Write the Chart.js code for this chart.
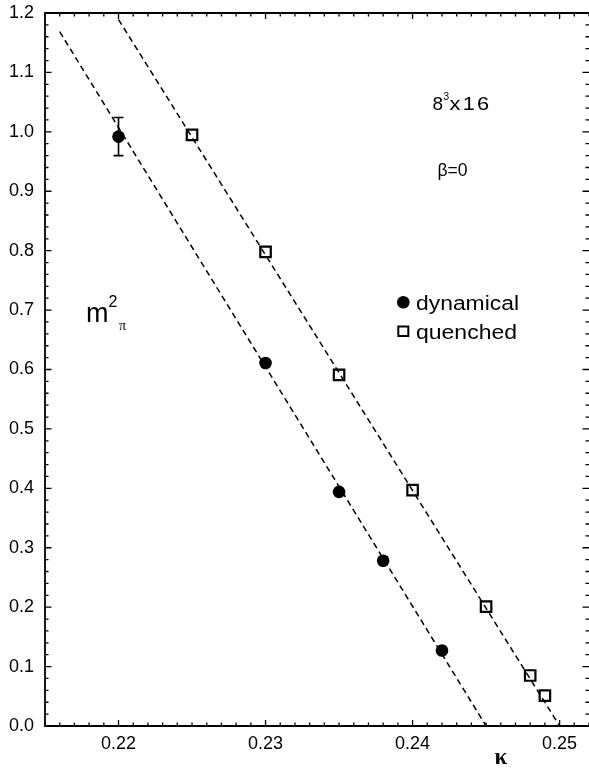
<!DOCTYPE html>
<html>
<head>
<meta charset="utf-8">
<script src="https://cdn.jsdelivr.net/npm/chart.js@4/dist/chart.umd.min.js"></script>
<style>
  html, body { margin: 0; padding: 0; background: #fff; }
  #wrap { width: 589px; height: 770px; }
</style>
</head>
<body>
<div id="wrap"><canvas id="chart" width="589" height="770"></canvas></div>
<script>
// values
const kappaDynamical = [0.220, 0.230, 0.235, 0.238, 0.242];
const mpiDynamical = [0.992, 0.611, 0.394, 0.278, 0.127];
const errDynamical = [0.032, 0, 0, 0, 0];

const kappaQuenched = [0.225, 0.230, 0.235, 0.240, 0.245, 0.248, 0.249];
const mpiQuenched = [0.995, 0.798, 0.591, 0.397, 0.201, 0.085, 0.051];

// dashed fit lines, end points as seen in the picture
const fitDynamicalKappa = [0.2160, 0.2450];
const fitDynamicalMpi = [1.1685, 0.0];
const fitQuenchedKappa = [0.2200, 0.2500];
const fitQuenchedMpi = [1.189, 0.0];

const xTickValues = [0.22, 0.23, 0.24, 0.25];
const yTickValues = [0.0, 0.1, 0.2, 0.3, 0.4, 0.5, 0.6, 0.7, 0.8, 0.9, 1.0, 1.1, 1.2];

const toPoints = (xs, ys) => xs.map((x, i) => ({ x: x, y: ys[i] }));

Chart.defaults.font.family = "'Liberation Sans', Arial, sans-serif";
Chart.defaults.color = "#000";

function drawFitted(ctx, text, x, y, font, targetWidth, spacing) {
  ctx.save();
  ctx.font = font;
  if (spacing) {
    ctx.letterSpacing = spacing;
  }
  const natural = ctx.measureText(text).width;
  const stretch = targetWidth ? targetWidth / natural : 1;
  ctx.translate(x, y);
  ctx.scale(stretch, 1);
  ctx.textBaseline = "alphabetic";
  ctx.textAlign = "left";
  ctx.fillStyle = "#000";
  ctx.fillText(text, 0, 0);
  ctx.restore();
}

const errorBarPlugin = {
  id: "mpiErrorBars",
  afterDatasetsDraw(chart) {
    const dataset = chart.data.datasets[0];
    if (!dataset || !Array.isArray(dataset.errorBars)) {
      return;
    }
    const meta = chart.getDatasetMeta(0);
    const yScale = chart.scales.y;
    const ctx = chart.ctx;
    ctx.save();
    ctx.strokeStyle = "#000";
    ctx.lineWidth = 1.6;
    meta.data.forEach((pt, i) => {
      const err = dataset.errorBars[i];
      if (!err) {
        return;
      }
      const v = dataset.data[i].y;
      const top = yScale.getPixelForValue(v + err);
      const bottom = yScale.getPixelForValue(v - err);
      ctx.beginPath();
      ctx.moveTo(pt.x, top);
      ctx.lineTo(pt.x, bottom);
      ctx.moveTo(pt.x - 5, top);
      ctx.lineTo(pt.x + 5, top);
      ctx.moveTo(pt.x - 5, bottom);
      ctx.lineTo(pt.x + 5, bottom);
      ctx.stroke();
    });
    ctx.restore();
  },
};

// frame with inward ticks; the right border falls on the page edge
const framePlugin = {
  id: "frameTicks",
  beforeDatasetsDraw(chart) {
    const { ctx, chartArea: a, scales } = chart;
    const xs = scales.x;
    const ys = scales.y;
    ctx.save();
    ctx.strokeStyle = "#000";
    ctx.lineWidth = 1.8;
    ctx.beginPath();
    ctx.moveTo(a.right, a.top);
    ctx.lineTo(a.left, a.top);
    ctx.lineTo(a.left, a.bottom);
    ctx.lineTo(a.right, a.bottom);
    ctx.stroke();
    ctx.lineWidth = 1.3;
    ctx.beginPath();
    for (let i = 215; i <= 252; i++) {
      const px = xs.getPixelForValue(i / 1000);
      const len = i % 10 === 0 ? 6 : 3.5;
      ctx.moveTo(px, a.bottom);
      ctx.lineTo(px, a.bottom - len);
      ctx.moveTo(px, a.top);
      ctx.lineTo(px, a.top + len);
    }
    for (let j = 0; j <= 60; j++) {
      const py = ys.getPixelForValue(j / 50);
      const len = j % 5 === 0 ? 6.5 : 3.5;
      ctx.moveTo(a.left, py);
      ctx.lineTo(a.left + len, py);
      ctx.moveTo(a.right, py);
      ctx.lineTo(a.right - len, py);
    }
    ctx.stroke();
    ctx.restore();
  },
  afterDraw(chart) {
    const ctx = chart.ctx;
    const sans = "'Liberation Sans', Arial, sans-serif";
    const serif = "'Liberation Serif', 'Times New Roman', serif";

    drawFitted(ctx, "8", 432.5, 110, "19px " + sans);
    drawFitted(ctx, "3", 443.5, 100, "10px " + sans);
    drawFitted(ctx, "x16", 449.5, 110, "19px " + sans, 42, "2px");
    drawFitted(ctx, "\u03b2=0", 437.5, 175.5, "18px " + sans, 30);

    // legend
    ctx.save();
    ctx.fillStyle = "#000";
    ctx.beginPath();
    ctx.arc(403.3, 302.3, 6.3, 0, Math.PI * 2);
    ctx.fill();
    ctx.strokeStyle = "#000";
    ctx.lineWidth = 2;
    ctx.strokeRect(398.3, 326.5, 10, 9.5);
    ctx.restore();
    drawFitted(ctx, "dynamical", 416, 309.5, "20px " + sans, 103);
    drawFitted(ctx, "quenched", 416, 338.5, "20px " + sans, 101);

    // axis labels
    drawFitted(ctx, "m", 86, 322, "27px " + sans);
    drawFitted(ctx, "2", 108.5, 306.7, "16px " + sans);
    drawFitted(ctx, "\u03c0", 119, 329.5, "14px " + serif);
    drawFitted(ctx, "\u03ba", 494.5, 764, "bold 23px " + serif);
  },
};

new Chart(document.getElementById("chart"), {
  type: "scatter",
  data: {
    datasets: [
      {
        label: "dynamical",
        data: toPoints(kappaDynamical, mpiDynamical),
        errorBars: errDynamical,
        pointStyle: "circle",
        pointRadius: 6.3,
        pointBackgroundColor: "#000",
        pointBorderColor: "#000",
        pointBorderWidth: 0,
        showLine: false,
      },
      {
        label: "quenched",
        data: toPoints(kappaQuenched, mpiQuenched),
        pointStyle: "rect",
        pointRadius: 7.4,
        pointBackgroundColor: "rgba(0,0,0,0)",
        pointBorderColor: "#000",
        pointBorderWidth: 2.2,
        showLine: false,
      },
      {
        label: "fit dynamical",
        data: toPoints(fitDynamicalKappa, fitDynamicalMpi),
        showLine: true,
        borderColor: "#000",
        borderWidth: 1.5,
        borderDash: [6, 4],
        pointRadius: 0,
      },
      {
        label: "fit quenched",
        data: toPoints(fitQuenchedKappa, fitQuenchedMpi),
        showLine: true,
        borderColor: "#000",
        borderWidth: 1.5,
        borderDash: [6, 4],
        pointRadius: 0,
      },
    ],
  },
  plugins: [framePlugin, errorBarPlugin],
  options: {
    responsive: false,
    devicePixelRatio: 1,
    animation: false,
    layout: { autoPadding: false, padding: { left: 0, top: 13, right: 0, bottom: 0 } },
    plugins: {
      legend: { display: false },
      tooltip: { enabled: false },
    },
    scales: {
      x: {
        type: "linear",
        min: 0.215,
        max: 0.252,
        grid: { display: false, drawTicks: false },
        border: { display: false },
        afterBuildTicks(scale) {
          scale.ticks = xTickValues.map((v) => ({ value: v }));
        },
        afterFit(scale) {
          scale.height = 44;
          scale.paddingLeft = 0;
          scale.paddingRight = 0;
        },
        ticks: {
          padding: 7,
          font: { size: 18 },
          color: "#000",
          maxRotation: 0,
          callback: (v) => v.toFixed(2),
        },
      },
      y: {
        type: "linear",
        min: 0,
        max: 1.2,
        grid: { display: false, drawTicks: false },
        border: { display: false },
        afterBuildTicks(scale) {
          scale.ticks = yTickValues.map((v) => ({ value: v }));
        },
        afterFit(scale) {
          scale.width = 45;
          scale.paddingTop = 0;
          scale.paddingBottom = 0;
        },
        ticks: {
          padding: 11,
          font: { size: 18 },
          color: "#000",
          callback: (v) => v.toFixed(1),
        },
      },
    },
  },
});
</script>
</body>
</html>
